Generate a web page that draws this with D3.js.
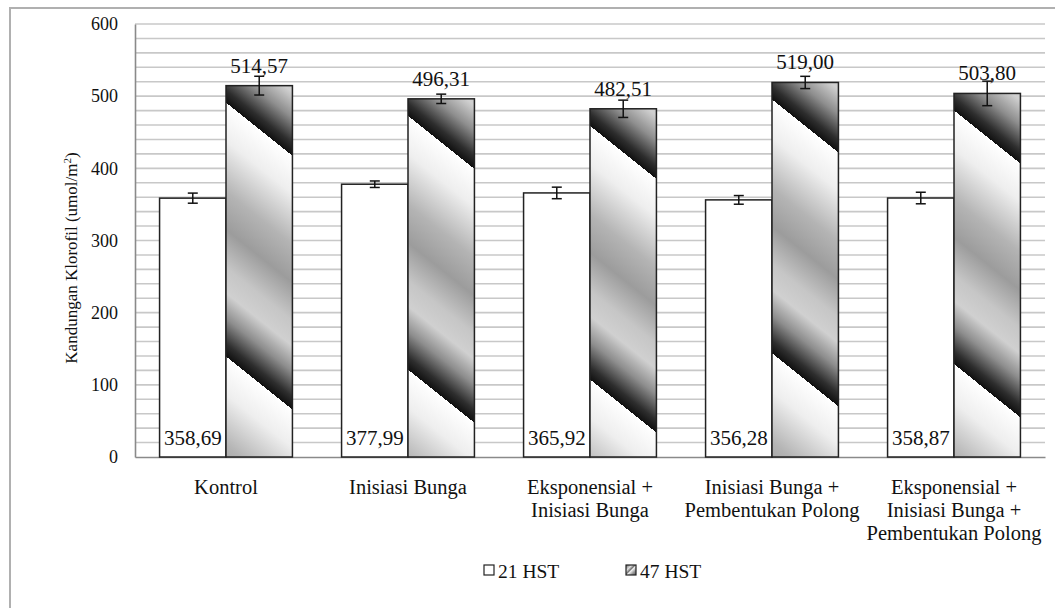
<!DOCTYPE html>
<html>
<head>
<meta charset="utf-8">
<script src="https://cdn.jsdelivr.net/npm/d3@7"></script>
<style>
  html, body { margin: 0; padding: 0; background: #fff; }
  svg { display: block; }
  text { font-family: "Liberation Serif", "Times New Roman", serif; fill: #111; }
</style>
</head>
<body>
<script>
// ---- data ----
const categories = [
  "Kontrol",
  "Inisiasi Bunga",
  "Eksponensial +\nInisiasi Bunga",
  "Inisiasi Bunga +\nPembentukan Polong",
  "Eksponensial +\nInisiasi Bunga +\nPembentukan Polong"
];
const seriesNames = ["21 HST", "47 HST"];
const hst21 = [358.69, 377.99, 365.92, 356.28, 358.87];
const hst47 = [514.57, 496.31, 482.51, 519.00, 503.80];
const err21 = [7, 4.5, 8, 6, 8];
const err47 = [13, 6.5, 12, 8.5, 17];
const yTicks = [0, 100, 200, 300, 400, 500, 600];
const fmt = v => v.toFixed(2).replace(".", ",");

// ---- layout ----
const W = 1055, H = 608;
const plot = { left: 135, right: 1045, top: 24, bottom: 457 };

const svg = d3.select("body").append("svg").attr("width", W).attr("height", H);
const defs = svg.append("defs");

// outer chart border
svg.append("rect")
  .attr("x", 10).attr("y", 8).attr("width", 1100).attr("height", 700)
  .attr("fill", "none").attr("stroke", "#b0b0b0").attr("stroke-width", 2);

const x = d3.scaleBand().domain(categories).range([plot.left, plot.right])
  .paddingInner(0.27).paddingOuter(0.135);
const xs = d3.scaleBand().domain(seriesNames).range([0, x.bandwidth()]);
const y = d3.scaleLinear().domain([0, 600]).range([plot.bottom, plot.top]);

// gridlines every 20
svg.append("g").selectAll("line").data(d3.range(20, 601, 20)).join("line")
  .attr("x1", plot.left).attr("x2", plot.right)
  .attr("y1", d => y(d)).attr("y2", d => y(d))
  .attr("stroke", "#c8c8c8").attr("stroke-width", 1.6);

// gradient stops for 47 HST
const stops = [
  [0, "#ffffff"], [0.15, "#eeeeee"], [0.35, "#b4b4b4"], [0.5, "#9c9c9c"],
  [0.65, "#c6c6c6"], [0.75, "#d0d0d0"], [0.85, "#8e8e8e"], [0.95, "#2e2e2e"], [1, "#101010"]
];
const dir = [-0.625, 0.781], period = 198;

const data47 = categories.map((c, i) => ({ c, i, v: hst47[i], e: err47[i] }));
const data21 = categories.map((c, i) => ({ c, i, v: hst21[i], e: err21[i] }));

data47.forEach(d => {
  const bx = x(d.c) + xs("47 HST");
  const p0 = [bx, y(d.v) + 17];
  const g = defs.append("linearGradient").attr("id", "g47_" + d.i)
    .attr("gradientUnits", "userSpaceOnUse").attr("spreadMethod", "repeat")
    .attr("x1", p0[0]).attr("y1", p0[1])
    .attr("x2", p0[0] + dir[0] * period).attr("y2", p0[1] + dir[1] * period);
  stops.forEach(s => g.append("stop").attr("offset", s[0]).attr("stop-color", s[1]));
});
// legend swatch gradient
const lg = defs.append("linearGradient").attr("id", "g47_leg")
  .attr("x1", 0).attr("y1", 0).attr("x2", 1).attr("y2", 1).attr("spreadMethod", "repeat");
[[0, "#666"], [0.3, "#ddd"], [0.45, "#777"], [0.55, "#eee"], [0.75, "#999"], [1, "#555"]]
  .forEach(s => lg.append("stop").attr("offset", s[0]).attr("stop-color", s[1]));

// axes
const yAxis = svg.append("g").attr("transform", `translate(${plot.left},0)`)
  .call(d3.axisLeft(y).tickValues(yTicks).tickSize(0).tickPadding(17).tickFormat(d3.format("d")));
yAxis.select(".domain").attr("stroke", "#8a8a8a").attr("stroke-width", 1.6);
yAxis.selectAll("text").attr("font-size", 18).attr("fill", "#111");

const xAxis = svg.append("g").attr("transform", `translate(0,${plot.bottom})`)
  .call(d3.axisBottom(x).tickSize(0).tickPadding(0));
xAxis.select(".domain").attr("stroke", "#8a8a8a").attr("stroke-width", 1.6);
xAxis.selectAll(".tick text").each(function(d) {
  const t = d3.select(this);
  t.text(null).attr("font-size", 20.5).attr("fill", "#111")
    .attr("y", 0).attr("dy", null);
  d.split("\n").forEach((line, k) => {
    t.append("tspan").attr("x", 0).attr("y", 37 + k * 23).text(line);
  });
});

// bars
const bars = svg.append("g");
bars.selectAll("rect.b21").data(data21).join("rect").attr("class", "b21")
  .attr("x", d => x(d.c) + xs("21 HST")).attr("width", xs.bandwidth())
  .attr("y", d => y(d.v)).attr("height", d => y(0) - y(d.v))
  .attr("fill", "#fff").attr("stroke", "#222").attr("stroke-width", 1.5);
bars.selectAll("rect.b47").data(data47).join("rect").attr("class", "b47")
  .attr("x", d => x(d.c) + xs("47 HST")).attr("width", xs.bandwidth())
  .attr("y", d => y(d.v)).attr("height", d => y(0) - y(d.v))
  .attr("fill", d => `url(#g47_${d.i})`).attr("stroke", "#222").attr("stroke-width", 1.5);

// error bars
function errorBars(data, s) {
  const g = svg.append("g").attr("stroke", "#111").attr("stroke-width", 1.5);
  data.forEach(d => {
    const cx = x(d.c) + xs(s) + xs.bandwidth() / 2;
    g.append("line").attr("x1", cx).attr("x2", cx).attr("y1", y(d.v + d.e)).attr("y2", y(d.v - d.e));
    [d.v + d.e, d.v - d.e].forEach(v => g.append("line")
      .attr("x1", cx - 5).attr("x2", cx + 5).attr("y1", y(v)).attr("y2", y(v)));
  });
}
errorBars(data21, "21 HST");
errorBars(data47, "47 HST");

// value labels
svg.append("g").selectAll("text").data(data21).join("text")
  .attr("x", d => x(d.c) + xs("21 HST") + xs.bandwidth() / 2)
  .attr("y", y(0) - 12).attr("text-anchor", "middle").attr("font-size", 21)
  .text(d => fmt(d.v));
svg.append("g").selectAll("text").data(data47).join("text")
  .attr("x", d => x(d.c) + xs("47 HST") + xs.bandwidth() / 2)
  .attr("y", d => y(d.v) - 13).attr("text-anchor", "middle").attr("font-size", 21)
  .text(d => fmt(d.v));

// y title
svg.append("text").attr("transform", "translate(77,258) rotate(-90)")
  .attr("text-anchor", "middle").attr("font-size", 17)
  .html('Kandungan Klorofil (umol/m<tspan baseline-shift="super" font-size="11">2</tspan>)');

// legend
const legend = svg.append("g");
const legItems = [
  { name: seriesNames[0], x: 484, fill: "#fff" },
  { name: seriesNames[1], x: 626, fill: "url(#g47_leg)" }
];
legItems.forEach(it => {
  legend.append("rect").attr("x", it.x).attr("y", 565).attr("width", 10).attr("height", 10)
    .attr("fill", it.fill).attr("stroke", "#222").attr("stroke-width", 1.2);
  legend.append("text").attr("x", it.x + 14).attr("y", 578).attr("font-size", 19.5).text(it.name);
});
</script>
</body>
</html>
